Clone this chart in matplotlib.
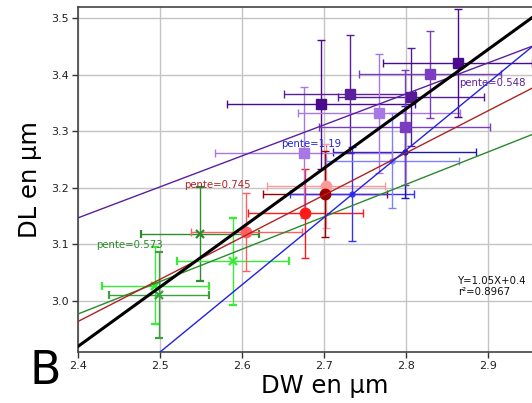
import numpy as np
import matplotlib
matplotlib.use("Agg")
import matplotlib.pyplot as plt

# ---- data ----
green_x = [2.549, 2.589, 2.494, 2.498]
green_y = [3.119, 3.070, 3.027, 3.010]
green_xerr = [0.072, 0.068, 0.065, 0.061]
green_yerr = [0.083, 0.077, 0.068, 0.076]
green_colors = ['#2e8b2e', '#33ee33', '#33ee33', '#3fa03f']

red_x = [2.605, 2.677, 2.702, 2.701]
red_y = [3.122, 3.155, 3.204, 3.189]
red_xerr = [0.068, 0.070, 0.072, 0.076]
red_yerr = [0.069, 0.079, 0.074, 0.076]
red_colors = ['#ff6060', '#ff1a1a', '#ff9999', '#990000']

blue_x = [2.734, 2.783, 2.798]
blue_y = [3.189, 3.248, 3.263]
blue_xerr = [0.076, 0.081, 0.087]
blue_yerr = [0.083, 0.084, 0.081]
blue_colors = ['#3333ff', '#8080ff', '#1a1aaa']

purple_x = [2.675, 2.696, 2.731, 2.767, 2.806, 2.798, 2.829, 2.863]
purple_y = [3.262, 3.348, 3.366, 3.332, 3.361, 3.307, 3.401, 3.421]
purple_xerr = [0.108, 0.115, 0.080, 0.099, 0.089, 0.104, 0.087, 0.091]
purple_yerr = [0.116, 0.114, 0.105, 0.105, 0.086, 0.102, 0.077, 0.095]
purple_colors = ['#a877e6', '#4b0a8c', '#5a1f9a', '#a877e6', '#561a96',
                 '#7a3cc0', '#7a3cc0', '#4b0a8c']

fit_slopes = [0.573, 0.745, 1.19, 0.548]
fit_intercepts = [1.602, 1.176, -0.065, 1.832]
fit_colors = ['#2a8a2a', '#b22222', '#2222dd', '#5b1f9e']
fit_label_pos = [(2.422, 3.099), (2.529, 3.205), (2.647, 3.277), (2.864, 3.385)]

overall_slope = 1.05
overall_intercept = 0.4
overall_r2 = 0.8967

xticks = [2.4, 2.5, 2.6, 2.7, 2.8, 2.9]
yticks = [3.0, 3.1, 3.2, 3.3, 3.4, 3.5]

# ---- figure ----
W, H = 532, 403
fig = plt.figure(figsize=(W / 100, H / 100), dpi=100)
ax = fig.add_axes([78.2 / W, 51.3 / H, 492 / W, 344.4 / H])
ax.set_xlim(2.4, 3.0)
ax.set_ylim(2.9104, 3.5194)

ax.grid(True, color='#c4c4c4', linewidth=1.0, zorder=0)
ax.set_axisbelow(True)

def draw_group(xs, ys, xe, ye, cols, marker, ms, mew=1.0):
    for x, y, dx, dy, c in zip(xs, ys, xe, ye, cols):
        ax.errorbar(x, y, xerr=dx, yerr=dy, fmt=marker, color=c, ecolor=c,
                    ms=ms, mew=mew, elinewidth=1.0, capsize=2.6, capthick=1.0,
                    zorder=3)

draw_group(green_x, green_y, green_xerr, green_yerr, green_colors, 'x', 6, 1.6)
draw_group(red_x, red_y, red_xerr, red_yerr, red_colors, 'o', 7.5)
draw_group(blue_x, blue_y, blue_xerr, blue_yerr, blue_colors, 'o', 3.5)
draw_group(purple_x, purple_y, purple_xerr, purple_yerr, purple_colors, 's', 6.5)

xx = np.array(ax.get_xlim())
xx = np.array([xx[0] - 0.1, xx[1] + 0.1])
for a, b, c, (tx, ty) in zip(fit_slopes, fit_intercepts, fit_colors, fit_label_pos):
    ax.plot(xx, a * xx + b, color=c, lw=1.0, zorder=4)
    ax.text(tx, ty, f"pente={a:g}", color=c, fontsize=7.3, va='center',
            ha='left', zorder=6)

ax.plot(xx, overall_slope * xx + overall_intercept, color='black', lw=2.2, zorder=5)
ax.text(2.863, 3.026, f"Y={overall_slope:g}X+{overall_intercept:g}\nr\u00b2={overall_r2:g}",
        fontsize=7.3, va='center', ha='left', color='#111111', linespacing=1.1,
        zorder=6)

ax.set_xticks(xticks)
ax.set_yticks(yticks)
ax.set_xticklabels([f"{v:.1f}" for v in xticks])
ax.set_yticklabels([f"{v:.1f}" for v in yticks])
ax.tick_params(labelsize=8, colors='#333333', length=4, width=1.0, pad=3)
ax.tick_params(labelcolor='#222222')
for s in ['left', 'bottom', 'top', 'right']:
    ax.spines[s].set_color('#444444')
    ax.spines[s].set_linewidth(1.2)

ax.set_xlabel("DW en µm", fontsize=17.5, labelpad=2)
ax.set_ylabel("DL en µm", fontsize=17.5, labelpad=6)

fig.text(30 / W, 1 - 384 / H, "B", fontsize=33, va='baseline', ha='left')

fig.savefig("out.png", dpi=100)
